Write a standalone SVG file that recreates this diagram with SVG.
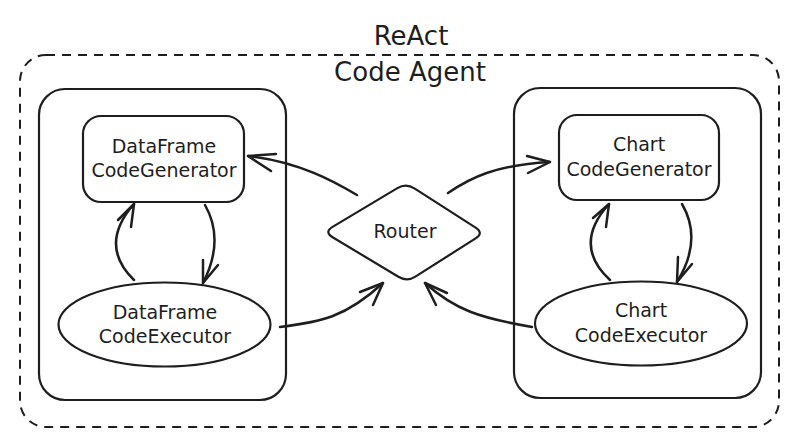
<svg xmlns="http://www.w3.org/2000/svg" width="799" height="447" viewBox="0 0 799 447">
<style>
.bg{fill:#ffffff}
.shape{fill:none;stroke:#1e1e1e;stroke-width:2.2;stroke-linejoin:round}
.frame{fill:none;stroke:#1e1e1e;stroke-width:2;stroke-dasharray:9 7}
.t{font-family:"DejaVu Sans",sans-serif;font-size:19px;fill:#1e1e1e;text-anchor:middle}
.title{font-family:"DejaVu Sans",sans-serif;font-size:26px;fill:#1e1e1e;text-anchor:middle}
.conn{fill:none;stroke:#1e1e1e;stroke-width:2.5;stroke-linecap:round;stroke-linejoin:round}
</style>
<rect class="bg" x="0" y="0" width="799" height="447"/>
<g id="react-code-agent">
<rect class="frame" x="20" y="55" width="759" height="372" rx="26"/>
<text class="title" x="411" y="45">ReAct</text>
<text class="title" x="410" y="81">Code Agent</text>
</g>
<g id="dataframe-group">
<rect class="shape" x="39" y="89" width="247" height="311" rx="26"/>
</g>
<g id="chart-group">
<rect class="shape" x="514" y="88" width="247" height="310" rx="26"/>
</g>
<g id="dataframe-codegenerator">
<rect class="shape" x="83" y="116" width="161" height="86" rx="18"/>
<text class="t" x="164" y="153">DataFrame</text>
<text class="t" x="164" y="177">CodeGenerator</text>
</g>
<g id="dataframe-codeexecutor">
<ellipse class="shape" cx="164.5" cy="324.5" rx="106" ry="42"/>
<text class="t" x="165" y="319">DataFrame</text>
<text class="t" x="165" y="343">CodeExecutor</text>
</g>
<g id="chart-codegenerator">
<rect class="shape" x="559" y="115" width="160" height="85" rx="18"/>
<text class="t" x="639" y="151">Chart</text>
<text class="t" x="639" y="176">CodeGenerator</text>
</g>
<g id="chart-codeexecutor">
<ellipse class="shape" cx="641" cy="323.5" rx="106" ry="42"/>
<text class="t" x="641" y="317">Chart</text>
<text class="t" x="641" y="342">CodeExecutor</text>
</g>
<g id="router">
<path class="shape" d="M332.6,226.9 L397.4,188.1 Q406,183 414.4,188.4 L475.6,227.6 Q484,233 475.6,238.4 L415.4,276.6 Q407,282 398.4,276.8 L332.6,237.2 Q324,232 332.6,226.9 Z"/>
<text class="t" x="405" y="238">Router</text>
</g>
<g id="connectors">
<path class="conn" d="M357,195 C335,182 300,162 248,156"/>
<path class="conn" d="M276,154 L248,156 L271,171"/>
<path class="conn" d="M448,193 C470,178 495,165 550,162"/>
<path class="conn" d="M527,156 L550,162 L528,173"/>
<path class="conn" d="M280,327 C320,322 345,318 383,283"/>
<path class="conn" d="M360,292 L383,283 L373,305"/>
<path class="conn" d="M532,327 C480,318 455,310 425,283"/>
<path class="conn" d="M447,293 L425,283 L436,305"/>
<path class="conn" d="M134,280 Q98,245 134,204"/>
<path class="conn" d="M118,220 L134,204 L131,227"/>
<path class="conn" d="M205,205 Q225,240 203,283"/>
<path class="conn" d="M203,260 L203,283 L218,265"/>
<path class="conn" d="M610,280 Q572,245 609,204"/>
<path class="conn" d="M593,218 L609,204 L606,227"/>
<path class="conn" d="M682,204 Q703,240 677,282"/>
<path class="conn" d="M678,257 L677,282 L692,264"/>
</g>
</svg>
